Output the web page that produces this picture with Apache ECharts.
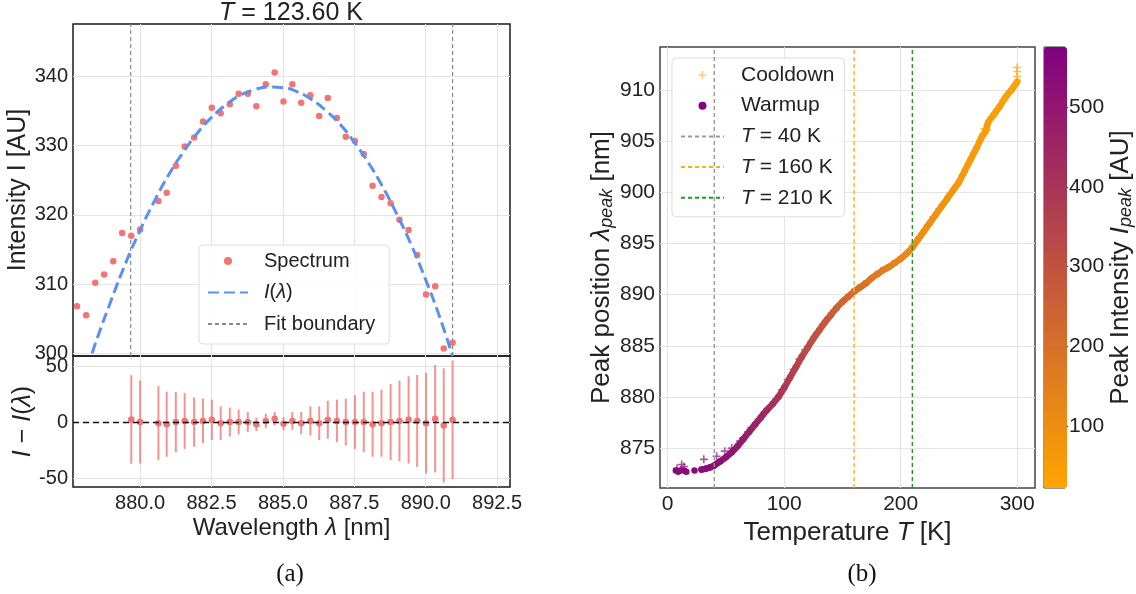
<!DOCTYPE html>
<html>
<head>
<meta charset="utf-8">
<script src="https://cdn.jsdelivr.net/npm/echarts@6/dist/echarts.min.js"></script>
<style>
html,body{margin:0;padding:0;background:#fff;}
#c{width:1136px;height:594px;}
</style>
</head>
<body>
<div id="c"></div>
<script>
// ---------- Panel (a): spectrum at T = 123.60 K ----------
const specL = [877.79, 878.11, 878.43, 878.74, 879.06, 879.37, 879.69, 880.00, 880.64, 880.93, 881.25, 881.56, 881.89, 882.20, 882.51, 882.82, 883.14, 883.45, 883.77, 884.07, 884.40, 884.71, 885.02, 885.33, 885.64, 885.96, 886.27, 886.57, 886.89, 887.20, 887.52, 887.83, 888.14, 888.45, 888.77, 889.08, 889.40, 889.70, 890.01, 890.33, 890.63, 890.94];
const specI = [306.8, 305.5, 310.2, 311.4, 313.3, 317.4, 317.0, 317.9, 322.0, 323.2, 327.1, 329.9, 331.2, 333.5, 335.5, 334.7, 336.0, 337.5, 337.5, 335.7, 338.9, 340.6, 336.4, 338.9, 336.2, 337.3, 334.3, 336.9, 334.0, 331.3, 330.7, 328.8, 324.2, 322.6, 321.7, 319.3, 317.8, 314.2, 308.5, 309.7, 300.7, 301.5];

const fitL = [878.32, 878.5, 879.0, 879.5, 880.0, 880.5, 881.0, 881.5, 882.0, 882.5, 883.0, 883.5, 884.0, 884.5, 885.0, 885.5, 886.0, 886.5, 887.0, 887.5, 888.0, 888.5, 889.0, 889.5, 890.0, 890.5, 890.94];
const fitI = [300.0, 302.2, 307.8, 313.1, 317.8, 322.0, 325.8, 329.0, 331.8, 334.1, 335.9, 337.3, 338.1, 338.5, 338.4, 337.8, 336.7, 335.1, 333.1, 330.5, 327.5, 324.0, 320.0, 315.6, 310.6, 305.1, 299.6];

const fitBounds = [879.67, 890.94];

const resL = [879.69, 880.00, 880.64, 880.93, 881.25, 881.56, 881.89, 882.20, 882.51, 882.82, 883.14, 883.45, 883.77, 884.07, 884.40, 884.71, 885.02, 885.33, 885.64, 885.96, 886.27, 886.57, 886.89, 887.20, 887.52, 887.83, 888.14, 888.45, 888.77, 889.08, 889.40, 889.70, 890.01, 890.33, 890.63, 890.94];
const resV = [2.3, 0, -1, -2, 0, 1, 0, 1, 2, -1, 0, 0, 0, -2, 1, 3, -1.5, 1, -1, 1, -1, 2, 1, 0, 0, 0, -2, -1, 0, 1, 2, 1, -1, 3, -3, 2];
const resE = [39.5, 37, 33, 29, 27, 25, 22, 20, 18, 15, 13, 11, 9, 6, 6.5, 6, 6, 8, 10, 13, 15, 17, 19, 21, 24, 27, 29, 30, 34, 36, 39, 41, 45, 48, 51, 53];

const aXTicks = [880, 882.5, 885, 887.5, 890, 892.5];
const aYTicks = [300, 310, 320, 330, 340];
const aRTicks = [-50, 0, 50];
const aXRange = [877.65, 892.95];
const aYRange = [299.6, 347.6];
const aRRange = [-58, 59];

// ---------- Panel (b): peak position vs temperature ----------
const warmT = [7, 9, 11, 14, 16, 23, 29, 33, 36, 40, 45, 50, 55, 60, 65, 70, 75, 80, 85, 90, 95, 100, 105, 110, 115, 120, 125, 130, 135, 140, 145, 150, 155, 160, 165, 170, 175, 180, 185, 190, 195, 200, 205, 210, 215, 220, 225, 230, 235, 240, 245, 250, 255, 260, 265, 270, 273, 275, 280, 285, 290, 295, 300];
const warmL = [872.8, 872.7, 872.8, 872.8, 872.7, 872.8, 872.9, 873.0, 873.1, 873.3, 873.7, 874.1, 874.6, 875.2, 875.9, 876.6, 877.3, 878.0, 878.7, 879.3, 880.0, 880.9, 881.9, 882.9, 883.9, 884.8, 885.7, 886.5, 887.3, 888.0, 888.7, 889.3, 889.8, 890.3, 890.7, 891.1, 891.6, 892.0, 892.4, 892.7, 893.1, 893.5, 894.0, 894.6, 895.4, 896.2, 897.0, 897.8, 898.6, 899.4, 900.2, 901.0, 902.1, 903.2, 904.3, 905.5, 906.0, 906.8, 907.6, 908.4, 909.3, 910.0, 910.8];
const warmI = [545, 545, 540, 545, 540, 538, 535, 535, 532, 530, 522, 515, 505, 495, 485, 475, 462, 448, 432, 415, 400, 385, 370, 355, 340, 325, 310, 295, 282, 268, 254, 240, 226, 212, 200, 188, 176, 165, 155, 145, 135, 125, 117, 110, 104, 98, 93, 88, 83, 78, 73, 68, 64, 60, 56, 52, 50, 49, 46, 43, 40, 37, 35];

const coolT = [8, 12, 14, 31, 42, 49, 55, 62, 69, 72, 78, 83, 88, 93, 98, 103, 108, 113, 118, 123, 128, 133, 138, 143, 148, 153, 158, 163, 168, 173, 178, 183, 188, 193, 198, 203, 208, 213, 218, 223, 228, 233, 238, 243, 248, 253, 258, 263, 268, 272, 274, 278, 283, 288, 293, 298, 300, 300, 300];
const coolL = [873.0, 873.4, 873.2, 873.9, 874.2, 874.7, 875.0, 875.7, 876.6, 877.0, 877.8, 878.5, 879.1, 879.8, 880.7, 881.7, 882.7, 883.7, 884.6, 885.4, 886.3, 887.1, 887.8, 888.5, 889.1, 889.7, 890.2, 890.6, 891.0, 891.4, 891.9, 892.3, 892.6, 893.0, 893.4, 893.8, 894.4, 895.2, 896.0, 896.8, 897.6, 898.4, 899.1, 899.9, 900.7, 901.7, 902.8, 903.9, 905.0, 906.2, 906.1, 907.3, 908.1, 909.0, 909.8, 910.5, 911.3, 911.8, 912.2];
const coolI = [540, 540, 540, 535, 528, 518, 505, 492, 478, 470, 455, 440, 424, 408, 392, 377, 362, 347, 332, 318, 303, 289, 275, 261, 247, 233, 219, 206, 194, 182, 170, 160, 150, 140, 130, 121, 113, 107, 101, 95, 90, 85, 80, 75, 70, 66, 62, 58, 54, 51, 50, 47, 44, 41, 38, 36, 35, 34, 34];

const refT = [40, 160, 210];
const refNames = ['T = 40 K', 'T = 160 K', 'T = 210 K'];
const refColors = ['#999999', '#ffae1a', '#1f9a1f'];

const bXTicks = [0, 100, 200, 300];
const bYTicks = [875, 880, 885, 890, 895, 900, 905, 910];
const bXRange = [-6.6, 315.3];
const bYRange = [871.1, 914.2];
const cbTicks = [100, 200, 300, 400, 500];
const cbRange = [23, 575];

// ---------- build ----------
const FONT = 'Liberation Sans';
const TXT = '#222';
const LOW = [255, 165, 0], HIGH = [128, 0, 128];
const zip2 = (a, b) => a.map((v, i) => [v, b[i]]);
const zip3 = (a, b, c) => a.map((v, i) => [v, b[i], c[i]]);
const plusPath = 'path://M4,0L6,0L6,4L10,4L10,6L6,6L6,10L4,10L4,6L0,6L0,4L4,4Z';

function cmap(v) {
  const t = Math.max(0, Math.min(1, (v - cbRange[0]) / (cbRange[1] - cbRange[0])));
  const c = LOW.map((l, k) => Math.round(l + (HIGH[k] - l) * t));
  return 'rgb(' + c.join(',') + ')';
}
// gradient for the connecting band of the warm-up curve (from T = 29 K on)
const bandStart = 6;
const bandT = warmT.slice(bandStart), bandL = warmL.slice(bandStart), bandI = warmI.slice(bandStart);
const bandStops = bandT.map((t, i) => ({
  offset: (t - bandT[0]) / (bandT[bandT.length - 1] - bandT[0]), color: cmap(bandI[i])}));

function nameStyle(fs) {
  return {fontFamily: FONT, fontSize: fs, color: TXT,
    rich: {i: {fontFamily: FONT, fontSize: fs, fontStyle: 'italic', color: TXT},
           s: {fontFamily: FONT, fontSize: Math.round(fs * 0.7), fontStyle: 'italic', color: TXT, padding: [Math.round(fs * 0.4), 0, 0, 0]}}};
}
const gridLine = {show: true, lineStyle: {color: '#e4e4e4', width: 1}};
const tickA = {fontFamily: FONT, fontSize: 20, color: TXT};
const tickB = {fontFamily: FONT, fontSize: 21, color: TXT};

function valAxis(extra) {
  return Object.assign({type: 'value', scale: true,
    axisLine: {show: false, onZero: false},
    splitLine: gridLine}, extra);
}
const hideSym = {opacity: 0};

const chart = echarts.init(document.getElementById('c'), null, {renderer: 'canvas'});
chart.setOption({
  animation: false,
  backgroundColor: '#fff',
  grid: [
    {left: 73, top: 24, width: 437, height: 332, show: true, borderColor: '#1a1a1a', borderWidth: 1.5, backgroundColor: 'transparent'},
    {left: 73, top: 356, width: 437, height: 131, show: true, borderColor: '#1a1a1a', borderWidth: 1.5, backgroundColor: 'transparent'},
    {left: 660, top: 47, width: 375, height: 441, show: true, borderColor: '#444', borderWidth: 1.5, backgroundColor: 'transparent'},
    {left: 1044, top: 47, width: 23, height: 441, show: true, borderColor: '#333', borderWidth: 1, backgroundColor: 'transparent'}
  ],
  xAxis: [
    valAxis({gridIndex: 0, min: aXRange[0], max: aXRange[1],
      axisTick: {show: false, customValues: aXTicks}, axisLabel: {show: false, customValues: aXTicks}}),
    valAxis({gridIndex: 1, min: aXRange[0], max: aXRange[1],
      axisTick: {show: false, customValues: aXTicks},
      axisLabel: Object.assign({customValues: aXTicks, margin: 6, formatter: v => v.toFixed(1)}, tickA),
      name: 'Wavelength {i|λ} [nm]', nameLocation: 'middle', nameGap: 29, nameTextStyle: nameStyle(24)}),
    valAxis({gridIndex: 2, min: bXRange[0], max: bXRange[1],
      axisTick: {show: false, customValues: bXTicks},
      axisLabel: Object.assign({customValues: bXTicks, margin: 6}, tickB),
      name: 'Temperature {i|T} [K]', nameLocation: 'middle', nameGap: 27, nameTextStyle: nameStyle(26)}),
    {type: 'value', gridIndex: 3, min: 0, max: 1, show: false}
  ],
  yAxis: [
    valAxis({gridIndex: 0, min: aYRange[0], max: aYRange[1],
      axisTick: {show: false, customValues: aYTicks},
      axisLabel: Object.assign({customValues: aYTicks, margin: 5}, tickA),
      name: 'Intensity I [AU]', nameLocation: 'middle', nameGap: 37, nameTextStyle: nameStyle(25)}),
    valAxis({gridIndex: 1, min: aRRange[0], max: aRRange[1],
      axisTick: {show: false, customValues: aRTicks},
      axisLabel: Object.assign({customValues: aRTicks, margin: 5}, tickA),
      name: '{i|I} − {i|I}({i|λ})', nameLocation: 'middle', nameGap: 37, nameTextStyle: nameStyle(25)}),
    valAxis({gridIndex: 2, min: bYRange[0], max: bYRange[1],
      axisTick: {show: false, customValues: bYTicks},
      axisLabel: Object.assign({customValues: bYTicks, margin: 5}, tickB),
      name: 'Peak position {i|λ}{s|peak} [nm]', nameLocation: 'middle', nameGap: 44, nameTextStyle: nameStyle(26)}),
    valAxis({gridIndex: 3, min: cbRange[0], max: cbRange[1], position: 'right',
      splitLine: {show: false},
      axisTick: {show: true, customValues: cbTicks, length: 3, lineStyle: {color: '#333'}},
      axisLabel: Object.assign({customValues: cbTicks, margin: 4}, tickB),
      name: 'Peak Intensity {i|I}{s|peak} [AU]', nameLocation: 'middle', nameGap: 40, nameTextStyle: nameStyle(26)})
  ],
  visualMap: [{
    type: 'continuous', show: true, min: cbRange[0], max: cbRange[1], dimension: 2,
    seriesIndex: [6, 7], calculable: false, text: null, showLabel: false,
    left: 1044, top: 47, itemWidth: 23, itemHeight: 441, padding: 0,
    inRange: {color: ['#FFA500', '#800080']}
  }],
  legend: [
    {left: 199, top: 245, orient: 'vertical', padding: [5, 14, 9, 8], itemGap: 9.5,
     itemWidth: 40, itemHeight: 8, backgroundColor: 'rgba(255,255,255,0.85)',
     borderColor: '#dddddd', borderWidth: 1, borderRadius: 4,
     data: ['Spectrum', {name: 'I(λ)', itemStyle: hideSym}, {name: 'Fit boundary', itemStyle: hideSym}],
     formatter: n => n === 'I(λ)' ? '{i|I}({i|λ})' : n,
     textStyle: {fontFamily: FONT, fontSize: 20, color: TXT, lineHeight: 22, padding: [0, 0, 0, 11],
       rich: {i: {fontFamily: FONT, fontSize: 20, fontStyle: 'italic', color: TXT}}}},
    {left: 672, top: 58, orient: 'vertical', padding: [6, 10, 8, 8], itemGap: 8.7,
     itemWidth: 43, itemHeight: 8, backgroundColor: 'rgba(255,255,255,0.85)',
     borderColor: '#dddddd', borderWidth: 1, borderRadius: 4,
     data: ['Cooldown', 'Warmup'].concat(refNames.map(n => ({name: n, itemStyle: hideSym}))),
     formatter: n => n.indexOf('T = ') === 0 ? '{i|T}' + n.slice(1) : n,
     textStyle: {fontFamily: FONT, fontSize: 21, color: TXT, lineHeight: 22, padding: [0, 0, 0, 12],
       rich: {i: {fontFamily: FONT, fontSize: 21, fontStyle: 'italic', color: TXT}}}}
  ],
  graphic: [
    {type: 'text', x: 291, y: 13, style: {
      text: '{i|T} = 123.60 K', align: 'center', verticalAlign: 'middle',
      font: '25px ' + FONT, fill: TXT,
      rich: {i: {font: 'italic 25px ' + FONT, fill: TXT}}}},
    {type: 'text', x: 290, y: 574, style: {text: '(a)', align: 'center', verticalAlign: 'middle', font: '25px "Liberation Serif"', fill: '#111'}},
    {type: 'text', x: 862, y: 574, style: {text: '(b)', align: 'center', verticalAlign: 'middle', font: '25px "Liberation Serif"', fill: '#111'}}
  ],
  series: [
    {name: 'Spectrum', type: 'scatter', xAxisIndex: 0, yAxisIndex: 0, data: zip2(specL, specI),
     symbolSize: 6.5, itemStyle: {color: '#f27474', opacity: 1}, z: 3},
    {name: 'I(λ)', type: 'line', xAxisIndex: 0, yAxisIndex: 0, data: zip2(fitL, fitI), smooth: true,
     showSymbol: false, symbol: 'none', lineStyle: {color: '#5b8ff0', width: 3, type: [11, 5]}, itemStyle: {color: '#5b8ff0'}, z: 4},
    {name: 'Fit boundary', type: 'line', xAxisIndex: 0, yAxisIndex: 0,
     data: [[fitBounds[0], aYRange[0]], [fitBounds[0], aYRange[1]]], symbol: 'none',
     lineStyle: {color: '#888', width: 1.2, type: [4, 3]}, itemStyle: {color: '#888'}, z: 2},
    {name: 'Fit boundary', type: 'line', xAxisIndex: 0, yAxisIndex: 0,
     data: [[fitBounds[1], aYRange[0]], [fitBounds[1], aYRange[1]]], symbol: 'none',
     lineStyle: {color: '#888', width: 1.2, type: [4, 3]}, itemStyle: {color: '#888'}, z: 2},
    {name: 'err', type: 'custom', xAxisIndex: 1, yAxisIndex: 1, data: zip3(resL, resV, resE),
     encode: {x: 0, y: 1}, clip: true, z: 2,
     renderItem: (params, api) => {
       const x = api.value(0), v = api.value(1), e = api.value(2);
       const p1 = api.coord([x, v - e]), p2 = api.coord([x, v + e]);
       return {type: 'line', shape: {x1: p1[0], y1: p1[1], x2: p2[0], y2: p2[1]},
               style: {stroke: 'rgba(242,110,110,0.75)', lineWidth: 2}};
     }},
    {name: 'Residual', type: 'scatter', xAxisIndex: 1, yAxisIndex: 1, data: zip2(resL, resV),
     symbolSize: 6.5, itemStyle: {color: '#f27474', opacity: 1}, z: 3,
     markLine: {silent: true, symbol: 'none', label: {show: false}, data: [{yAxis: 0}],
       lineStyle: {color: '#111', width: 1.4, type: [6, 4]}}},
    {name: 'Cooldown', type: 'scatter', xAxisIndex: 2, yAxisIndex: 2, data: zip3(coolT, coolL, coolI),
     symbol: plusPath, symbolSize: 8, itemStyle: {color: '#ffb54d', opacity: 0.7}, z: 2},
    {name: 'Warmup', type: 'scatter', xAxisIndex: 2, yAxisIndex: 2, data: zip3(warmT, warmL, warmI),
     symbolSize: 6.5, itemStyle: {color: '#800080', opacity: 1}, z: 4},
    {name: 'band', type: 'line', xAxisIndex: 2, yAxisIndex: 2, data: zip2(bandT, bandL), smooth: 0.3,
     symbol: 'none', silent: true, z: 3,
     lineStyle: {width: 6.5, cap: 'round', join: 'round',
       color: {type: 'linear', x: 0, y: 0, x2: 1, y2: 0, colorStops: bandStops}}}
  ].concat(refT.map((t, i) => ({
     name: refNames[i], type: 'line', xAxisIndex: 2, yAxisIndex: 2,
     data: [[t, bYRange[0]], [t, bYRange[1]]], symbol: 'none',
     lineStyle: {color: refColors[i], width: 1.4, type: [4, 3]}, itemStyle: {color: refColors[i]}, z: 5
  })))
});
</script>
</body>
</html>
